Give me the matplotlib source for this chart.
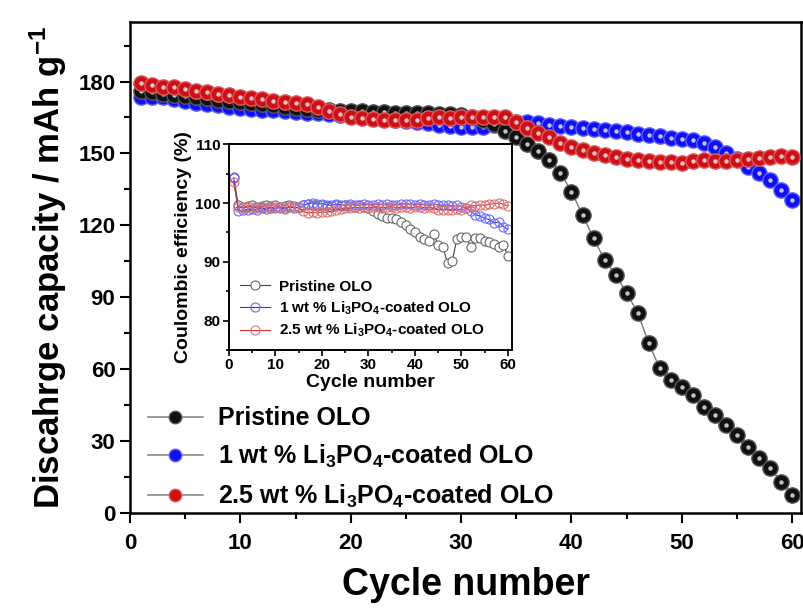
import numpy as np
import matplotlib
matplotlib.use('Agg')
import matplotlib.pyplot as plt
from matplotlib.lines import Line2D
from matplotlib.ticker import MultipleLocator

plt.rcParams['font.family'] = ['Liberation Sans', 'DejaVu Sans']
plt.rcParams['font.weight'] = 'bold'
plt.rcParams['axes.labelweight'] = 'bold'
plt.rcParams['mathtext.fontset'] = 'custom'
plt.rcParams['mathtext.rm'] = 'Liberation Sans:bold'
plt.rcParams['mathtext.bf'] = 'Liberation Sans:bold'
plt.rcParams['mathtext.default'] = 'rm'

# cycle numbers
cycles = np.arange(1, 61)

# discharge capacity (mAh/g)
cap_pristine = [176.0, 175.5, 175.0, 174.5, 174.0, 173.5, 173.0, 172.5, 172.0, 171.5,
                171.0, 170.5, 170.0, 169.5, 169.0, 168.5, 168.3, 168.0, 167.8, 167.6,
                167.5, 167.3, 167.2, 167.0, 167.0, 166.8, 166.7, 166.5, 166.3, 166.0,
                165.3, 164.0, 162.3, 159.5, 157.0, 154.0, 151.0, 147.3, 142.0, 134.0,
                124.3, 114.6, 105.5, 99.2, 91.6, 83.5, 70.7, 60.2, 55.4, 52.6,
                49.1, 44.2, 40.7, 36.6, 32.4, 27.5, 22.6, 18.5, 12.9, 7.3]
cap_1wt = [173.5, 173.5, 173.5, 172.6, 171.8, 171.0, 170.5, 170.0, 169.5, 169.0,
           168.6, 168.3, 168.0, 167.6, 167.3, 167.0, 166.7, 166.3, 166.0, 165.6,
           165.2, 164.8, 164.4, 164.0, 163.6, 163.2, 162.6, 162.0, 161.5, 161.2,
           161.0, 161.2, 162.0, 162.8, 163.2, 163.0, 162.5, 161.9, 161.5, 161.2,
           160.7, 160.3, 159.8, 159.2, 158.8, 158.1, 157.8, 157.1, 156.3, 156.0,
           155.5, 154.5, 152.8, 150.3, 147.6, 144.5, 141.7, 139.0, 134.7, 130.6]
cap_25wt = [179.3, 178.6, 177.9, 177.6, 176.8, 176.2, 175.7, 174.9, 174.3, 173.7,
            173.0, 172.6, 172.0, 171.6, 171.2, 170.7, 169.3, 167.5, 166.5, 165.4,
            164.7, 164.3, 164.0, 164.0, 164.0, 163.8, 164.7, 165.1, 164.7, 165.1,
            165.4, 165.1, 165.4, 165.1, 162.9, 160.5, 158.7, 156.8, 154.5, 152.8,
            151.5, 150.3, 149.4, 148.4, 147.6, 147.3, 147.0, 146.6, 146.6, 145.9,
            146.9, 147.3, 147.0, 147.0, 147.3, 147.6, 148.0, 148.3, 148.7, 148.4]

# coulombic efficiency (%), inset
ce_pristine = [104.5, 99.6, 99.4, 99.5, 99.6, 99.4, 99.5, 99.7, 99.5, 99.6,
               99.4, 99.5, 99.6, 99.5, 99.4, 99.6, 99.8, 99.7, 99.5, 99.6,
               99.5, 99.4, 99.6, 99.5, 99.7, 99.5, 99.4, 99.6, 99.3, 99.1,
               98.7, 98.2, 97.8, 97.4, 97.5, 97.2, 96.8, 96.3, 95.6, 95.0,
               94.3, 93.8, 93.6, 94.7, 92.9, 92.5, 89.8, 90.1, 93.8, 94.2,
               94.3, 92.6, 94.0, 94.1, 93.5, 93.3, 93.0, 92.6, 92.9, 91.0]
ce_1wt = [104.3, 98.6, 98.8, 98.9, 99.0, 98.9, 99.1, 99.0, 99.2, 99.1,
          99.2, 99.0, 99.3, 99.2, 99.3, 99.6, 99.9, 100.0, 99.8, 99.9,
          99.7, 99.6, 99.8, 99.7, 99.6, 99.8, 99.7, 99.6, 99.8, 99.7,
          99.7, 99.8, 99.7, 99.8, 99.6, 99.7, 99.8, 99.9, 99.8, 99.7,
          99.8, 99.7, 99.6, 99.8, 99.7, 99.6, 99.7, 99.5, 99.6, 99.4,
          99.2, 98.6, 98.0, 97.8, 97.4, 97.2, 96.6, 96.8, 96.0, 95.5]
ce_25wt = [103.5, 99.3, 99.2, 99.4, 99.3, 99.2, 99.4, 99.3, 99.2, 99.4,
           99.3, 99.2, 99.4, 99.3, 99.1, 98.6, 98.3, 98.4, 98.3, 98.5,
           98.4, 98.6, 98.9, 99.0, 99.2, 99.1, 99.3, 99.2, 99.3, 99.2,
           99.3, 99.4, 99.2, 99.3, 99.4, 99.2, 99.3, 99.4, 99.2, 99.3,
           99.4, 99.2, 99.3, 99.1, 98.9, 98.8, 98.9, 98.8, 99.0, 98.8,
           99.1, 99.6, 99.5, 99.7, 99.6, 99.8, 99.9, 100.0, 99.8, 99.5]

labels = ['Pristine OLO',
          r'1 wt % Li$_3$PO$_4$-coated OLO',
          r'2.5 wt % Li$_3$PO$_4$-coated OLO']


fig = plt.figure(figsize=(8.04, 6.11), dpi=100)
ax = fig.add_axes([0.1617, 0.1612, 0.8346, 0.8033])

# sphere-ish markers: base circle + small highlight
def sphere(x, y, face, edge, line, z):
    ax.plot(x, y, '-', color=line, lw=1.0, zorder=z)
    ax.plot(x, y, 'o', ms=11, mfc=face, mec=edge, mew=1.0, zorder=z + 0.1)
    ax.plot(x, y, 'o', ms=3.2, mfc='white', mec='none', alpha=0.75, zorder=z + 0.2)

sphere(cycles, cap_1wt, '#1010f0', '#6060ff', '#2020ff', 2)
sphere(cycles, cap_pristine, '#111111', '#555555', '#777777', 3)
sphere(cycles, cap_25wt, '#cc1018', '#e05a5a', '#d02020', 4)

ax.set_xlim(0, 60.8)
ax.set_ylim(0, 205)
ax.xaxis.set_major_locator(MultipleLocator(10))
ax.xaxis.set_minor_locator(MultipleLocator(5))
ax.yaxis.set_major_locator(MultipleLocator(30))
ax.yaxis.set_minor_locator(MultipleLocator(15))
ax.tick_params(which='both', direction='out', width=1.5, labelsize=16)
ax.tick_params(axis='x', pad=8)
ax.tick_params(which='major', length=7)
ax.tick_params(which='minor', length=4)
for s in ax.spines.values():
    s.set_linewidth(1.8)

ax.set_xlabel('Cycle number', fontsize=27, labelpad=9)
ax.set_ylabel(r'Discahrge capacity / mAh g$^{-1}$', fontsize=25, labelpad=7)

handles = []
for face, edge in [('#111111', '#555555'), ('#1010f0', '#6060ff'), ('#cc1018', '#e05a5a')]:
    handles.append(Line2D([], [], color='#888888', lw=1.2, marker='o', ms=9,
                          mfc=face, mec=edge))
ax.legend(handles, labels, loc='lower left', bbox_to_anchor=(0.0, -0.03),
          frameon=False, fontsize=18, handlelength=2.2, handletextpad=0.6,
          labelspacing=0.5, borderaxespad=0.3)

# inset: coulombic efficiency
ins = fig.add_axes([0.2848, 0.4272, 0.3516, 0.3367])
ins.plot(cycles, ce_pristine, '-o', color='#444444', lw=0.8, ms=6.5,
         mfc='white', mec='#666666', mew=0.8, label=labels[0])
ins.plot(cycles, ce_1wt, '-o', color='#3030ff', lw=0.8, ms=6.5,
         mfc='none', mec='#6a6aff', mew=0.8, label=labels[1])
ins.plot(cycles, ce_25wt, '-o', color='#d03030', lw=0.8, ms=6.5,
         mfc='none', mec='#e07070', mew=0.8, label=labels[2])
ins.set_xlim(0, 60.8)
ins.set_ylim(75, 110)
ins.xaxis.set_major_locator(MultipleLocator(10))
ins.xaxis.set_minor_locator(MultipleLocator(5))
ins.yaxis.set_major_locator(MultipleLocator(10))
ins.yaxis.set_minor_locator(MultipleLocator(5))
ins.tick_params(which='both', direction='out', width=1.2, labelsize=11, pad=2)
ins.tick_params(which='major', length=4)
ins.tick_params(which='minor', length=2.5)
for s in ins.spines.values():
    s.set_linewidth(1.4)
ins.set_xlabel('Cycle number', fontsize=14, labelpad=1)
ins.set_ylabel('Coulombic efficiency (%)', fontsize=14, labelpad=2)
ins.legend(loc='lower left', frameon=False, fontsize=11, handlelength=2.0,
           handletextpad=0.6, labelspacing=0.35, borderaxespad=0.3)

plt.savefig('out.png', dpi=100)
